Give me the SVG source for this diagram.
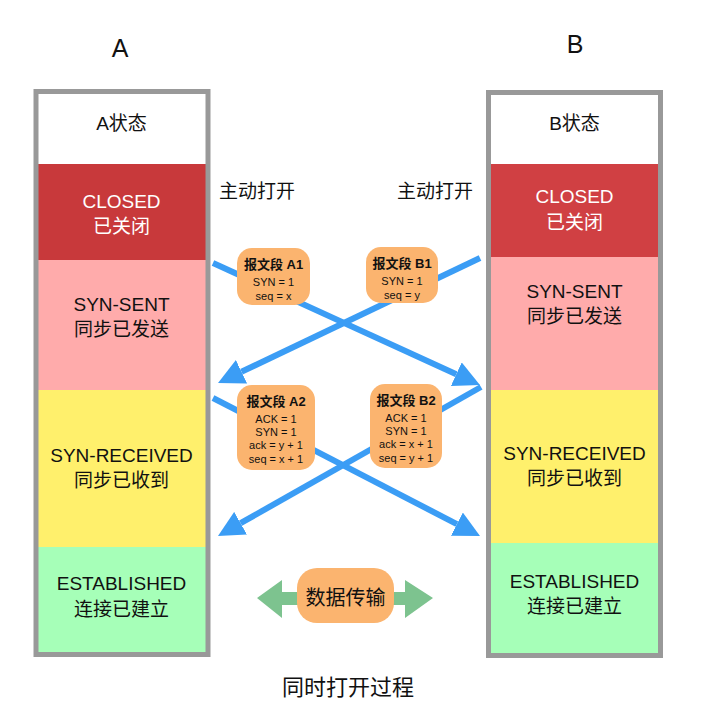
<svg xmlns="http://www.w3.org/2000/svg" width="715" height="726" viewBox="0 0 715 726">
<style>
text{font-family:"Liberation Sans","Noto Sans CJK SC",sans-serif;fill:#111;text-anchor:middle}
.st{font-size:19px}
.wt{fill:#fff}
.pk{fill:#fbb46f}
.pt{font-size:13px;font-weight:bold}
.pl{font-size:11px}
.conn{stroke:#3b9df5;stroke-width:6;fill:none;marker-end:url(#ah)}
.col{fill:none;stroke:#999;stroke-width:5}
</style>
<defs>
<marker id="ah" viewBox="0 -13 26 26" markerWidth="26" markerHeight="26" refX="0" refY="0" markerUnits="userSpaceOnUse" orient="auto">
<path d="M0,-13 L26,0 L0,13 z" fill="#3b9df5"/>
</marker>
</defs>
<rect width="715" height="726" fill="#fff"/>
<text x="120" y="57" style="font-size:25px">A</text>
<text x="575" y="53" style="font-size:25px">B</text>
<g id="colA">
<rect x="36" y="92" width="172" height="72" fill="#fff"/>
<rect x="36" y="164" width="172" height="96" fill="#c8393b"/>
<rect x="36" y="260" width="172" height="130" fill="#ffabab"/>
<rect x="36" y="390" width="172" height="157" fill="#fff06c"/>
<rect x="36" y="547" width="172" height="107" fill="#a6ffb8"/>
<rect class="col" x="36" y="91.5" width="172" height="563"/>
<text class="st" x="121.5" y="130">A状态</text>
<text class="st wt" x="121.5" y="208">CLOSED</text>
<text class="st wt" x="121.5" y="233">已关闭</text>
<text class="st" x="121.5" y="311">SYN-SENT</text>
<text class="st" x="121.5" y="336">同步已发送</text>
<text class="st" x="121.5" y="462">SYN-RECEIVED</text>
<text class="st" x="121.5" y="487">同步已收到</text>
<text class="st" x="121.5" y="590">ESTABLISHED</text>
<text class="st" x="121.5" y="616">连接已建立</text>
</g>
<g id="colB">
<rect x="489" y="93" width="172" height="71" fill="#fff"/>
<rect x="489" y="164" width="172" height="93" fill="#d04043"/>
<rect x="489" y="257" width="172" height="133" fill="#ffabab"/>
<rect x="489" y="390" width="172" height="153" fill="#fff06c"/>
<rect x="489" y="543" width="172" height="112" fill="#a6ffb8"/>
<rect class="col" x="488.5" y="92.5" width="172" height="563"/>
<text class="st" x="574.5" y="130">B状态</text>
<text class="st wt" x="574.5" y="203">CLOSED</text>
<text class="st wt" x="574.5" y="229">已关闭</text>
<text class="st" x="574.5" y="298">SYN-SENT</text>
<text class="st" x="574.5" y="323">同步已发送</text>
<text class="st" x="574.5" y="460">SYN-RECEIVED</text>
<text class="st" x="574.5" y="485">同步已收到</text>
<text class="st" x="574.5" y="588">ESTABLISHED</text>
<text class="st" x="574.5" y="613">连接已建立</text>
</g>
<g id="labels">
<text x="257" y="198" style="font-size:19px">主动打开</text>
<text x="435" y="198" style="font-size:19px">主动打开</text>
</g>
<g id="connectors">
<line class="conn" x1="213" y1="263" x2="456.3" y2="374.2"/>
<line class="conn" x1="480" y1="258" x2="241.5" y2="371.8"/>
<line class="conn" x1="213" y1="398" x2="456.9" y2="524.1"/>
<line class="conn" x1="481" y1="387" x2="240.6" y2="523.2"/>
</g>
<g id="pA1">
<rect class="pk" x="237" y="248" width="73" height="57" rx="15"/>
<text class="pt" x="273.5" y="269">报文段 A1</text>
<text class="pl" x="273.5" y="286">SYN = 1</text>
<text class="pl" x="273.5" y="300">seq = x</text>
</g>
<g id="pB1">
<rect class="pk" x="366" y="247" width="72" height="56" rx="15"/>
<text class="pt" x="402" y="268">报文段 B1</text>
<text class="pl" x="402" y="285">SYN = 1</text>
<text class="pl" x="402" y="299">seq = y</text>
</g>
<g id="pA2">
<rect class="pk" x="237" y="385" width="78" height="85" rx="15"/>
<text class="pt" x="276" y="406">报文段 A2</text>
<text class="pl" x="276" y="423">ACK = 1</text>
<text class="pl" x="276" y="436">SYN = 1</text>
<text class="pl" x="276" y="449">ack = y + 1</text>
<text class="pl" x="276" y="463">seq = x + 1</text>
</g>
<g id="pB2">
<rect class="pk" x="370" y="384" width="72" height="84" rx="15"/>
<text class="pt" x="406" y="405">报文段 B2</text>
<text class="pl" x="406" y="422">ACK = 1</text>
<text class="pl" x="406" y="435">SYN = 1</text>
<text class="pl" x="406" y="448">ack = x + 1</text>
<text class="pl" x="406" y="462">seq = y + 1</text>
</g>
<g id="data">
<path d="M257,598 L282,580 L282,592 L408,592 L405,592 L405,580 L433,598 L405,618 L405,605 L282,605 L282,618 z" fill="#7dc38f"/>
<rect class="pk" x="297" y="568" width="97" height="55" rx="20"/>
<text x="345.5" y="605" style="font-size:20px">数据传输</text>
</g>
<text x="348" y="695" style="font-size:22px">同时打开过程</text>
</svg>
